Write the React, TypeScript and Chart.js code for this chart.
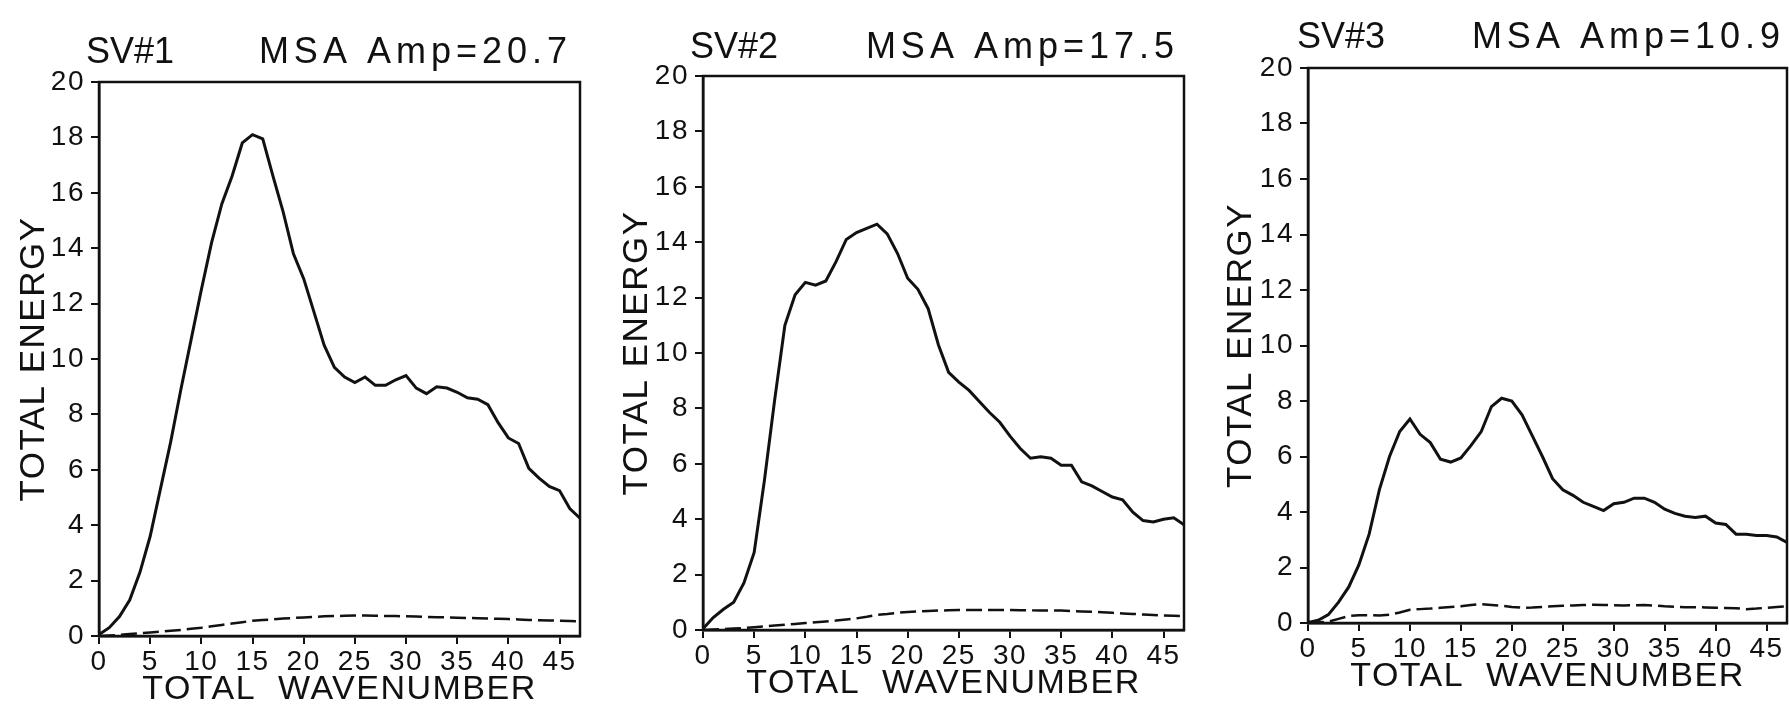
import React, { useEffect, useRef } from "react";
import { Chart, registerables } from "chart.js";

Chart.register(...registerables);
Chart.defaults.font.family = "'Liberation Sans', Arial, sans-serif";
Chart.defaults.color = "#111";

// ---------------- data ----------------
const wavenumbers = [
  0, 1, 2, 3, 4, 5, 6, 7, 8, 9, 10, 11, 12, 13, 14, 15, 16, 17, 18, 19, 20, 21, 22, 23,
  24, 25, 26, 27, 28, 29, 30, 31, 32, 33, 34, 35, 36, 37, 38, 39, 40, 41, 42, 43, 44, 45, 46, 47,
];

const sv1Total = [
  0.05, 0.3, 0.7, 1.3, 2.3, 3.6, 5.3, 7.0, 8.9, 10.7, 12.5, 14.2, 15.6, 16.6, 17.8, 18.1,
  17.95, 16.6, 15.3, 13.8, 12.9, 11.7, 10.5, 9.7, 9.35, 9.15, 9.35, 9.05, 9.05, 9.25, 9.4, 8.95,
  8.75, 9.0, 8.95, 8.8, 8.6, 8.55, 8.35, 7.7, 7.15, 6.95, 6.05, 5.7, 5.4, 5.25, 4.6, 4.25,
];
const sv1Dashed = [
  0.0, 0.02, 0.04, 0.07, 0.1, 0.13, 0.16, 0.19, 0.22, 0.26, 0.3, 0.35, 0.4, 0.45, 0.5, 0.55,
  0.58, 0.6, 0.63, 0.65, 0.67, 0.69, 0.71, 0.72, 0.73, 0.74, 0.74, 0.73, 0.72, 0.72, 0.71, 0.7,
  0.69, 0.68, 0.67, 0.66, 0.65, 0.64, 0.63, 0.62, 0.61, 0.6, 0.58, 0.57, 0.56, 0.55, 0.54, 0.53,
];

const sv2Total = [
  0.05, 0.45, 0.75, 1.0, 1.7, 2.8, 5.4, 8.3, 11.0, 12.1, 12.55, 12.45, 12.6, 13.3, 14.1, 14.35,
  14.5, 14.65, 14.3, 13.6, 12.7, 12.3, 11.6, 10.3, 9.3, 8.95, 8.65, 8.25, 7.85, 7.5, 7.0, 6.55,
  6.2, 6.25, 6.2, 5.95, 5.95, 5.35, 5.2, 5.0, 4.8, 4.7, 4.25, 3.95, 3.9, 4.0, 4.05, 3.8,
];
const sv2Dashed = [
  0.0, 0.02, 0.03, 0.05, 0.07, 0.1, 0.13, 0.16, 0.19, 0.22, 0.25, 0.28, 0.31, 0.34, 0.38, 0.42,
  0.48, 0.55, 0.58, 0.62, 0.65, 0.67, 0.69, 0.7, 0.71, 0.72, 0.72, 0.72, 0.72, 0.72, 0.72, 0.71,
  0.71, 0.7, 0.7, 0.7, 0.68, 0.67, 0.66, 0.64, 0.62, 0.6, 0.58, 0.56, 0.54, 0.52, 0.51, 0.5,
];

const sv3Total = [
  0.02, 0.1, 0.3, 0.75, 1.3, 2.1, 3.2, 4.8, 6.0, 6.9, 7.35, 6.8, 6.5, 5.9, 5.8, 5.95,
  6.4, 6.9, 7.8, 8.1, 8.0, 7.5, 6.75, 6.0, 5.2, 4.8, 4.6, 4.35, 4.2, 4.05, 4.3, 4.35,
  4.5, 4.5, 4.35, 4.1, 3.95, 3.85, 3.8, 3.85, 3.6, 3.55, 3.2, 3.2, 3.15, 3.15, 3.1, 2.9,
];
const sv3Dashed = [
  0.0, 0.02, 0.05, 0.15, 0.25, 0.28, 0.28, 0.27, 0.3, 0.38, 0.48, 0.5, 0.52, 0.55, 0.58, 0.6,
  0.65, 0.68, 0.65, 0.62, 0.58, 0.55, 0.56, 0.58, 0.6, 0.62, 0.63, 0.65, 0.66, 0.65, 0.64, 0.63,
  0.64, 0.65, 0.63, 0.6, 0.58, 0.57, 0.57, 0.56, 0.55, 0.54, 0.53, 0.5, 0.52, 0.55, 0.58, 0.6,
];

const xTickValues = [0, 5, 10, 15, 20, 25, 30, 35, 40, 45];
const yTickValues = [0, 2, 4, 6, 8, 10, 12, 14, 16, 18, 20];

const svLabels = ["SV#1", "SV#2", "SV#3"];
const ampLabels = ["MSA Amp=20.7", "MSA Amp=17.5", "MSA Amp=10.9"];
const xAxisTitle = "TOTAL  WAVENUMBER";
const yAxisTitle = "TOTAL ENERGY";

// ---------------- layout (page pixel positions) ----------------
type Geo = {
  canvasLeft: number;
  canvasWidth: number;
  plotLeft: number;
  plotRight: number;
  plotTop: number;
  plotBottom: number;
  svX: number;
  svBase: number;
  ampRight: number;
};

const H = 712;
const GEOS: Geo[] = [
  { canvasLeft: 0, canvasWidth: 600, plotLeft: 99, plotRight: 580, plotTop: 82, plotBottom: 636, svX: 86, svBase: 63, ampRight: 567 },
  { canvasLeft: 603, canvasWidth: 600, plotLeft: 703, plotRight: 1184, plotTop: 76, plotBottom: 630, svX: 690, svBase: 58, ampRight: 1174 },
  { canvasLeft: 1207, canvasWidth: 582, plotLeft: 1308, plotRight: 1787, plotTop: 68, plotBottom: 623, svX: 1297, svBase: 48, ampRight: 1780 },
];

const PANELS = [
  { solid: sv1Total, dashed: sv1Dashed },
  { solid: sv2Total, dashed: sv2Dashed },
  { solid: sv3Total, dashed: sv3Dashed },
];

const framePlugin = {
  id: "frame",
  beforeDraw(chart: any) {
    (chart.ctx as any).letterSpacing = "1.5px";
  },
  afterDraw(chart: any, _args: any, opts: any) {
    const { ctx, chartArea: a } = chart;
    ctx.save();
    ctx.strokeStyle = "#111";
    ctx.lineWidth = 2.5;
    ctx.strokeRect(a.left, a.top, a.right - a.left, a.bottom - a.top);
    ctx.fillStyle = "#111";
    ctx.textBaseline = "alphabetic";
    ctx.font = "36px 'Liberation Sans', Arial, sans-serif";
    (ctx as any).letterSpacing = "0px";
    ctx.textAlign = "left";
    ctx.fillText(opts.sv, opts.svX, opts.svBase);
    (ctx as any).letterSpacing = "5px";
    ctx.textAlign = "right";
    ctx.fillText(opts.amp, opts.ampRight + 5, opts.svBase);
    ctx.restore();
  },
};

function Panel({ idx }: { idx: number }) {
  const ref = useRef<HTMLCanvasElement | null>(null);
  const g = GEOS[idx];
  const p = PANELS[idx];

  useEffect(() => {
    if (!ref.current) return;
    const yAxisWidth = g.plotLeft - g.canvasLeft;
    const xAxisHeight = H - g.plotBottom;
    const xTitlePadBottom = H - (g.plotBottom + 54) - 20.4;

    const chart = new Chart(ref.current, {
      type: "line",
      data: {
        datasets: [
          {
            data: wavenumbers.map((w, i) => ({ x: w, y: p.solid[i] })),
            borderColor: "#111",
            borderWidth: 3,
            pointRadius: 0,
            tension: 0,
            fill: false,
          },
          {
            data: wavenumbers.map((w, i) => ({ x: w, y: p.dashed[i] })),
            borderColor: "#111",
            borderWidth: 2.5,
            borderDash: [16, 6],
            pointRadius: 0,
            tension: 0,
            fill: false,
          },
        ],
      },
      options: {
        animation: false,
        responsive: false,
        maintainAspectRatio: false,
        devicePixelRatio: 1,
        layout: {
          padding: { top: g.plotTop, right: g.canvasLeft + g.canvasWidth - g.plotRight, left: 0, bottom: 0 },
        },
        plugins: {
          legend: { display: false },
          tooltip: { enabled: false },
          title: { display: false },
          frame: {
            sv: svLabels[idx],
            amp: ampLabels[idx],
            svX: g.svX - g.canvasLeft,
            svBase: g.svBase,
            ampRight: g.ampRight - g.canvasLeft,
          },
        } as any,
        scales: {
          x: {
            type: "linear",
            min: 0,
            max: 47,
            afterBuildTicks: (s: any) => {
              s.ticks = xTickValues.map((v) => ({ value: v }));
            },
            afterFit: (s: any) => {
              s.height = xAxisHeight;
            },
            ticks: {
              font: { size: 28 },
              color: "#111",
              padding: 1,
              maxRotation: 0,
              autoSkip: false,
            },
            grid: {
              drawOnChartArea: false,
              drawTicks: true,
              tickLength: 8,
              color: "#111",
              lineWidth: 2,
            },
            border: { display: true, color: "#111", width: 2.5 },
            title: {
              display: true,
              text: xAxisTitle,
              font: { size: 34 },
              color: "#111",
              padding: { top: 0, bottom: xTitlePadBottom },
            },
          },
          y: {
            type: "linear",
            min: 0,
            max: 20,
            afterBuildTicks: (s: any) => {
              s.ticks = yTickValues.map((v) => ({ value: v }));
            },
            afterFit: (s: any) => {
              s.width = yAxisWidth;
            },
            ticks: {
              font: { size: 28 },
              color: "#111",
              padding: 6,
              autoSkip: false,
            },
            grid: {
              drawOnChartArea: false,
              drawTicks: true,
              tickLength: 8,
              color: "#111",
              lineWidth: 2,
            },
            border: { display: true, color: "#111", width: 2.5 },
            title: {
              display: true,
              text: yAxisTitle,
              font: { size: 35 },
              color: "#111",
              padding: { top: 13, bottom: 0 },
            },
          },
        },
      },
      plugins: [framePlugin],
    } as any);
    return () => chart.destroy();
  }, [idx]);

  return (
    <div style={{ position: "absolute", left: g.canvasLeft, top: 0, width: g.canvasWidth, height: H }}>
      <canvas ref={ref} width={g.canvasWidth} height={H} style={{ width: g.canvasWidth, height: H, display: "block" }} />
    </div>
  );
}

export default function App() {
  return (
    <div style={{ position: "absolute", left: 0, top: 0, width: 1789, height: H, background: "#fff", overflow: "hidden" }}>
      <Panel idx={0} />
      <Panel idx={1} />
      <Panel idx={2} />
    </div>
  );
}
